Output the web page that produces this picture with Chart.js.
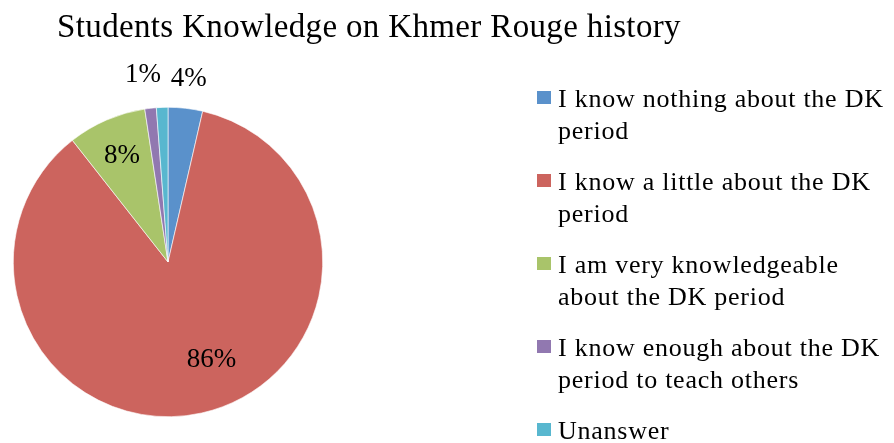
<!DOCTYPE html>
<html>
<head>
<meta charset="utf-8">
<script src="https://cdn.jsdelivr.net/npm/chart.js@4/dist/chart.umd.min.js"></script>
<style>
    html, body { margin: 0; padding: 0; background: #fff; }
    #wrap { position: relative; width: 894px; height: 443px; overflow: hidden; font-family: 'Liberation Serif', 'DejaVu Serif', serif; color: #000; }
    #chart { position: absolute; left: 0; top: 0; }
    #title { position: absolute; left: 0; top: 6px; width: 738px; text-align: center; font-size: 33px; line-height: 40px; letter-spacing: 0.35px; white-space: nowrap; }
    #legend { position: absolute; left: 537px; top: 83px; }
    .item { display: flex; align-items: flex-start; margin-bottom: 19px; }
    .box { width: 14px; height: 13px; margin-top: 8px; margin-right: 7px; flex: none; }
    .txt { font-size: 26px; line-height: 32px; letter-spacing: 0.75px; white-space: nowrap; }
</style>
</head>
<body>
<div id="wrap">
    <canvas id="chart" width="894" height="443"></canvas>
    <div id="title">Students Knowledge on Khmer Rouge history</div>
    <div id="legend"></div>
</div>
<script>
// --- Dados ---
const categorias = [
    ['I know nothing about the DK', 'period'],
    ['I know a little about the DK', 'period'],
    ['I am very knowledgeable', 'about the DK period'],
    ['I know enough about the DK', 'period to teach others'],
    ['Unanswer']
];
const percentagens = [3.6, 85.8, 8.2, 1.2, 1.2];
const cores = ['#5A91CB', '#CC645E', '#A9C46A', '#9178B0', '#58B7CF'];

// --- Rótulos (Excel escondeu o do "Unanswer") ---
const mostrarRotulo = [true, true, true, true, false];
const distRotulo = [1.19, 0.69, 0.75, 1.22, 1.2];
const giroRotulo = [0, -0.2, 0, -0.02, 0];

const rotulosPlugin = {
    id: 'rotulos',
    afterDatasetsDraw(chart) {
        const ctx = chart.ctx;
        const meta = chart.getDatasetMeta(0);
        ctx.save();
        ctx.font = '27px "Liberation Serif", "DejaVu Serif", serif';
        ctx.fillStyle = '#000';
        ctx.textAlign = 'center';
        ctx.textBaseline = 'middle';
        meta.data.forEach((arc, i) => {
            if (!mostrarRotulo[i]) return;
            const p = arc.getProps(['x', 'y', 'startAngle', 'endAngle', 'outerRadius'], true);
            const meio = (p.startAngle + p.endAngle) / 2 + giroRotulo[i];
            const r = p.outerRadius * distRotulo[i];
            ctx.fillText(Math.round(percentagens[i]) + '%', p.x + Math.cos(meio) * r, p.y + Math.sin(meio) * r);
        });
        ctx.restore();
    }
};

new Chart(document.getElementById('chart'), {
    type: 'pie',
    data: {
        labels: categorias.map(c => c.join(' ')),
        datasets: [{
            data: percentagens,
            backgroundColor: cores,
            borderColor: '#ffffff',
            borderWidth: 0.6
        }]
    },
    options: {
        responsive: false,
        animation: false,
        layout: { padding: { left: 13, right: 571, top: 107, bottom: 26 } },
        plugins: {
            legend: { display: false },
            tooltip: { enabled: false },
            title: { display: false }
        }
    },
    plugins: [rotulosPlugin]
});

// --- Legenda ---
document.getElementById('legend').innerHTML = categorias.map((linhas, i) => `
    <div class="item">
        <div class="box" style="background:${cores[i]}"></div>
        <div class="txt">${linhas.join('<br>')}</div>
    </div>
`).join('');
</script>
</body>
</html>
